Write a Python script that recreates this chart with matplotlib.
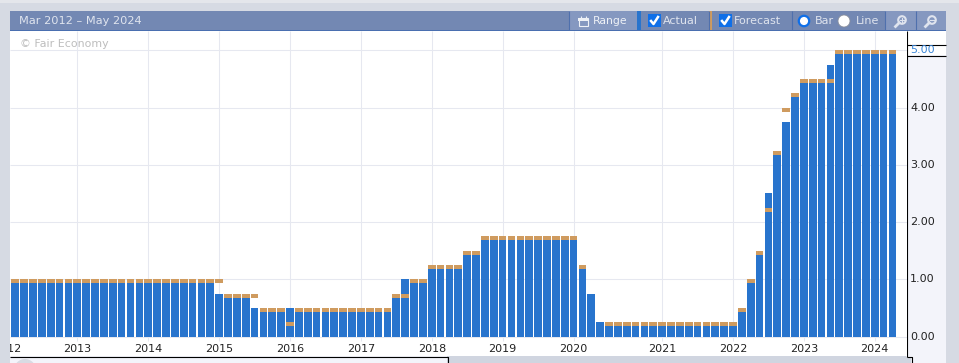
import matplotlib
matplotlib.use("Agg")
import matplotlib.pyplot as plt
from matplotlib.patches import Rectangle, Circle

# one entry per rate meeting, Mar 2012 - Apr 2024
actual = [1.00] * 23 + [0.75, 0.75, 0.75, 0.75, 0.50, 0.50, 0.50, 0.50] \
    + [0.50] * 12 + [0.75, 1.00, 1.00, 1.00] + [1.25] * 4 + [1.50, 1.50] + [1.75] * 11 \
    + [1.25, 0.75, 0.25] + [0.25] * 15 \
    + [0.50, 1.00, 1.50, 2.50, 3.25, 3.75, 4.25, 4.50, 4.50, 4.50, 4.75] + [5.00] * 7
forecast = [1.00] * 23 + [1.00, 0.75, 0.75, 0.75, 0.75, 0.50, 0.50, 0.50] \
    + [0.25] + [0.50] * 11 + [0.75, 0.75, 1.00, 1.00] + [1.25] * 4 + [1.50, 1.50] + [1.75] * 11 \
    + [1.25, None, None] + [0.25] * 15 \
    + [0.50, 1.00, 1.50, 2.25, 3.25, 4.00, 4.25, 4.50, 4.50, 4.50, 4.50] + [5.00] * 7

years = ["2012", "2013", "2014", "2015", "2016", "2017", "2018", "2019", "2020", "2021", "2022", "2023", "2024"]
year_pos = [-0.9, 7, 15, 23, 31, 39, 47, 55, 63, 73, 81, 89, 97]
y_ticks = [0, 1, 2, 3, 4]

BG = "#d6dae3"
HEADER = "#7388b3"
BUTTON = "#8598c0"
SEP = "#4f70ad"
BLUE = "#2874cd"
TAN = "#cf9b5f"
GRID = "#e6e8f0"
PANEL = "#f3f4fa"
TXT = "#dfe4ee"
TICK_H = 0.07

W, H = 959, 363
fig = plt.figure(figsize=(W / 100, H / 100), dpi=100, facecolor=BG)
plt.rcParams["font.family"] = "DejaVu Sans"

# frame around the chart, drawn in pixels
ui = fig.add_axes([0, 0, 1, 1], zorder=0)
ui.set_xlim(0, W)
ui.set_ylim(H, 0)
ui.axis("off")


def box(x0, y0, x1, y1, color, z=1):
    ui.add_patch(Rectangle((x0, y0), x1 - x0, y1 - y0, fc=color, ec="none", zorder=z))


def line(xs, ys, color="black", lw=0.8, z=3):
    ui.plot(xs, ys, color=color, lw=lw, zorder=z, solid_capstyle="butt")


def check(x, y):
    ui.add_patch(Rectangle((x, y), 13, 13, fc="#0f6fe8", ec="none", zorder=3))
    ui.plot([x + 3, x + 5.5, x + 10], [y + 7, y + 10, y + 3], color="white", lw=1.8, zorder=4)


def radio(x, y, selected):
    if selected:
        ui.add_patch(Circle((x, y), 5.2, fc="white", ec="#0f6fe8", lw=1.6, zorder=3))
    else:
        ui.add_patch(Circle((x, y), 6, fc="white", ec="#8a8f9c", lw=0.6, zorder=3))


def magnifier(x, y, plus):
    ui.add_patch(Circle((x, y), 3.8, fc="none", ec="#dfe4ee", lw=1.5, zorder=3))
    ui.plot([x - 2.8, x - 6.5], [y + 2.8, y + 6.5], color="#dfe4ee", lw=2, zorder=3)
    ui.plot([x - 1.8, x + 1.8], [y, y], color="#dfe4ee", lw=0.8, zorder=3)
    if plus:
        ui.plot([x, x], [y - 1.8, y + 1.8], color="#dfe4ee", lw=0.8, zorder=3)


box(0, 0, W, 3, "#e4e6eb")
# header bar
box(10, 11, 946, 30, HEADER)
box(10, 30, 946, 31, "#4a6fb0")
box(569, 11, 637, 30, BUTTON, 2)
box(885, 11, 946, 30, BUTTON, 2)
box(637, 11, 641, 30, BLUE, 2)
box(709, 11, 712, 30, TAN, 2)
for sx in [568.5, 708.5, 791.5, 884.5, 915.5]:
    line([sx, sx], [11, 30], SEP)

ui.text(19, 21, "Mar 2012 – May 2024", color=TXT, fontsize=8.2, va="center", zorder=4)
ui.text(593, 21.5, "Range", color="#eef1f6", fontsize=7.8, va="center", zorder=4)
ui.text(663, 21.5, "Actual", color=TXT, fontsize=8, va="center", zorder=4)
ui.text(734, 21.5, "Forecast", color=TXT, fontsize=8, va="center", zorder=4)
ui.text(815, 21.5, "Bar", color=TXT, fontsize=8, va="center", zorder=4)
ui.text(856, 21.5, "Line", color=TXT, fontsize=8, va="center", zorder=4)

# calendar icon
ui.add_patch(Rectangle((578.5, 18), 9, 7.5, fc="none", ec="#eef1f6", lw=0.8, zorder=3))
box(578, 18, 588, 21, "#eef1f6", 3)
line([580.5, 580.5], [15.5, 18], "#eef1f6")
line([585.5, 585.5], [15.5, 18], "#eef1f6")

check(648, 14)
check(719, 14)
radio(804, 21, True)
radio(844, 21, False)
magnifier(902, 20, True)
magnifier(932, 20, False)

# value panel on the right
box(906, 31, 946, 55, "white")
box(906, 55, 946, 363, PANEL)
line([906.5, 906.5], [31, 356.5])
line([906.5, 911.5, 911.5], [356.5, 356.5, 363])
line([906.5, 946], [44.5, 44.5])
line([906.5, 946], [55.5, 55.5])
box(906, 357, 911, 363, "#d0d5e0", 2)

# strip below the chart
box(10, 356, 447, 363, PANEL)
box(447, 356, 906, 363, "#d0d5e0")
line([10, 447.5, 447.5], [356.5, 356.5, 363])
ui.add_patch(Circle((25, 370), 11, fc="#d8dbe3", ec="none", zorder=2))

# the chart itself
ax = fig.add_axes([10 / W, 1 - 356 / H, 896.5 / W, 325 / H], zorder=1)
ax.set_xlim(-0.6, 100.58)
ax.set_ylim(-0.339, 5.338)
for s in ax.spines.values():
    s.set_visible(False)
ax.set_xticks([])
ax.set_yticks([])

ax.hlines(y_ticks + [5], -0.6, 100.58, color=GRID, lw=0.75, zorder=1)
ax.vlines(year_pos, -0.08, 5.338, color=GRID, lw=0.75, zorder=1)

xs = list(range(len(actual)))
ax.bar(xs, actual, width=0.87, color=BLUE, zorder=2)
fx = [i for i, f in zip(xs, forecast) if f is not None]
fy = [f for f in forecast if f is not None]
ax.bar(fx, [TICK_H] * len(fx), bottom=[f - TICK_H for f in fy], width=0.87, color=TAN, zorder=3)

for yr, pos in zip(years, year_pos):
    ax.text(pos, -0.22, yr, ha="center", va="center", fontsize=8, color="#222222", clip_on=True, zorder=4)

ax.text(0.011, 0.96, "© Fair Economy", transform=ax.transAxes, fontsize=7.9, color="#bdbdbd", va="center", zorder=4)

# value labels sit in the panel, placed with the chart's y scale
for v in y_ticks:
    ax.text(101.0, v, f"{v:.2f}", fontsize=8, color="#222222", va="center", clip_on=False, zorder=4)
ax.text(101.0, 5, "5.00", fontsize=8, color="#3a86d8", va="center", clip_on=False, zorder=4)

fig.savefig("out.png", dpi=100, facecolor=BG)
